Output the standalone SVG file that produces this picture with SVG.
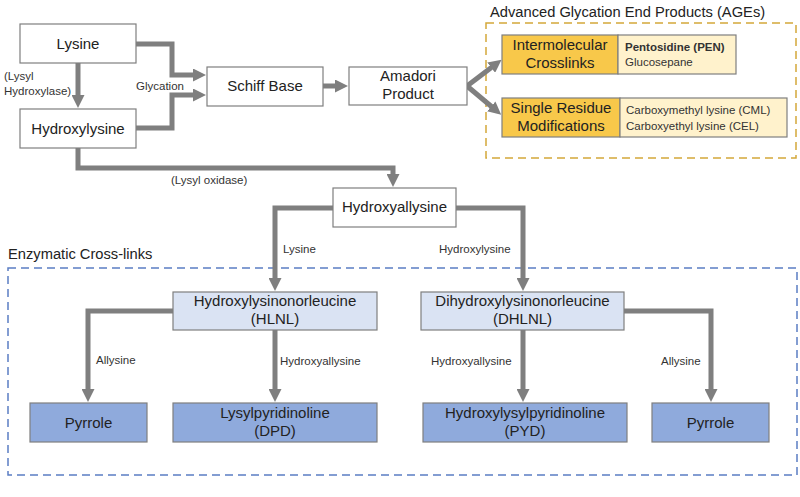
<svg xmlns="http://www.w3.org/2000/svg" width="800" height="497" viewBox="0 0 800 497">
<defs>
<style>
.box{stroke:#7f7f7f;stroke-width:1.2}
.w{fill:#ffffff}
.lb{fill:#dae3f3}
.db{fill:#8faadc}
.gold{fill:#f8c84a}
.pale{fill:#fff2cc}
.t{font-family:"Liberation Sans",Arial,sans-serif;font-size:15px;fill:#222;text-anchor:middle}
.s{font-family:"Liberation Sans",Arial,sans-serif;font-size:11.5px;fill:#333}
.ti{font-family:"Liberation Sans",Arial,sans-serif;font-size:14.7px;fill:#222}
.c{fill:none;stroke:#7f7f7f;stroke-width:5;marker-end:url(#ah)}
</style>
<marker id="ah" markerUnits="userSpaceOnUse" markerWidth="13" markerHeight="13" viewBox="0 0 13 13" refX="1" refY="6.5" orient="auto">
<path d="M0,0 L13,6.5 L0,13 z" fill="#7f7f7f"/>
</marker>
</defs>
<rect width="800" height="497" fill="#ffffff"/>

<!-- group frames -->
<rect x="486" y="23" width="310" height="135" fill="none" stroke="#d4a83a" stroke-width="1.5" stroke-dasharray="8,5"/>
<text class="ti" x="490" y="17">Advanced Glycation End Products (AGEs)</text>
<rect x="8" y="268" width="789" height="207" fill="none" stroke="#5b7ec4" stroke-width="1.5" stroke-dasharray="8,5"/>
<text class="ti" x="8" y="259">Enzymatic Cross-links</text>

<g id="connectors">
<path class="c" d="M78,63 V96"/>
<path class="c" d="M136,44 H172 V75 H194"/>
<path class="c" d="M136,128 H172 V95 H194"/>
<path class="c" d="M323,86 H336"/>
<path class="c" d="M467,86 L492,67"/>
<path class="c" d="M467,86 L492,107"/>
<path class="c" d="M78,148 V168 H393 V175"/>
<path class="c" d="M333,208 H275 V279"/>
<path class="c" d="M456,208 H523 V279"/>
<path class="c" d="M173,311 H88 V390"/>
<path class="c" d="M275,330 V390"/>
<path class="c" d="M523,330 V390"/>
<path class="c" d="M624,311 H711 V390"/>
<text class="s" x="4" y="80">(Lysyl</text>
<text class="s" x="4" y="95">Hydroxylase)</text>
<text class="s" x="136" y="90">Glycation</text>
<text class="s" x="171" y="184">(Lysyl oxidase)</text>
<text class="s" x="283" y="253">Lysine</text>
<text class="s" x="439" y="253">Hydroxylysine</text>
<text class="s" x="96" y="364">Allysine</text>
<text class="s" x="280" y="365">Hydroxyallysine</text>
<text class="s" x="431" y="365">Hydroxyallysine</text>
<text class="s" x="661" y="365">Allysine</text>
</g>

<g id="lysine"><rect class="box w" x="20" y="24" width="116" height="39"/><text class="t" x="78" y="49">Lysine</text></g>
<g id="hydroxylysine"><rect class="box w" x="20" y="109" width="116" height="39"/><text class="t" x="78" y="134">Hydroxylysine</text></g>
<g id="schiff"><rect class="box w" x="207" y="67" width="116" height="39"/><text class="t" x="265" y="91">Schiff Base</text></g>
<g id="amadori"><rect class="box w" x="349" y="67" width="118" height="38"/><text class="t" x="408" y="81">Amadori</text><text class="t" x="408" y="99">Product</text></g>

<g id="intermolecular">
<rect class="box gold" x="502" y="35" width="116" height="39"/>
<rect class="box pale" x="618" y="35" width="118" height="39"/>
<text class="t" x="560" y="50">Intermolecular</text><text class="t" x="560" y="68">Crosslinks</text>
<text class="s" x="625" y="51" font-weight="bold" fill="#111">Pentosidine (PEN)</text>
<text class="s" x="625" y="66">Glucosepane</text>
</g>
<g id="single">
<rect class="box gold" x="502" y="98" width="118" height="39"/>
<rect class="box pale" x="620" y="98" width="167" height="39"/>
<text class="t" x="561" y="113">Single Residue</text><text class="t" x="561" y="131">Modifications</text>
<text class="s" x="626" y="114">Carboxymethyl lysine (CML)</text>
<text class="s" x="626" y="130">Carboxyethyl lysine (CEL)</text>
</g>

<g id="hydroxyallysine"><rect class="box w" x="333" y="188" width="123" height="39"/><text class="t" x="394.5" y="212">Hydroxyallysine</text></g>
<g id="hlnl"><rect class="box lb" x="173" y="292" width="204" height="38"/><text class="t" x="275" y="306">Hydroxylysinonorleucine</text><text class="t" x="275" y="324">(HLNL)</text></g>
<g id="dhlnl"><rect class="box lb" x="421" y="292" width="203" height="38"/><text class="t" x="522.5" y="306">Dihydroxylysinonorleucine</text><text class="t" x="522.5" y="324">(DHLNL)</text></g>
<g id="pyrrole1"><rect class="box db" x="30" y="403" width="117" height="39"/><text class="t" x="88.5" y="428">Pyrrole</text></g>
<g id="dpd"><rect class="box db" x="173" y="403" width="204" height="39"/><text class="t" x="275" y="418">Lysylpyridinoline</text><text class="t" x="275" y="436">(DPD)</text></g>
<g id="pyd"><rect class="box db" x="423" y="403" width="204" height="39"/><text class="t" x="525" y="418">Hydroxylysylpyridinoline</text><text class="t" x="525" y="436">(PYD)</text></g>
<g id="pyrrole2"><rect class="box db" x="652" y="403" width="117" height="39"/><text class="t" x="710.5" y="428">Pyrrole</text></g>
</svg>
